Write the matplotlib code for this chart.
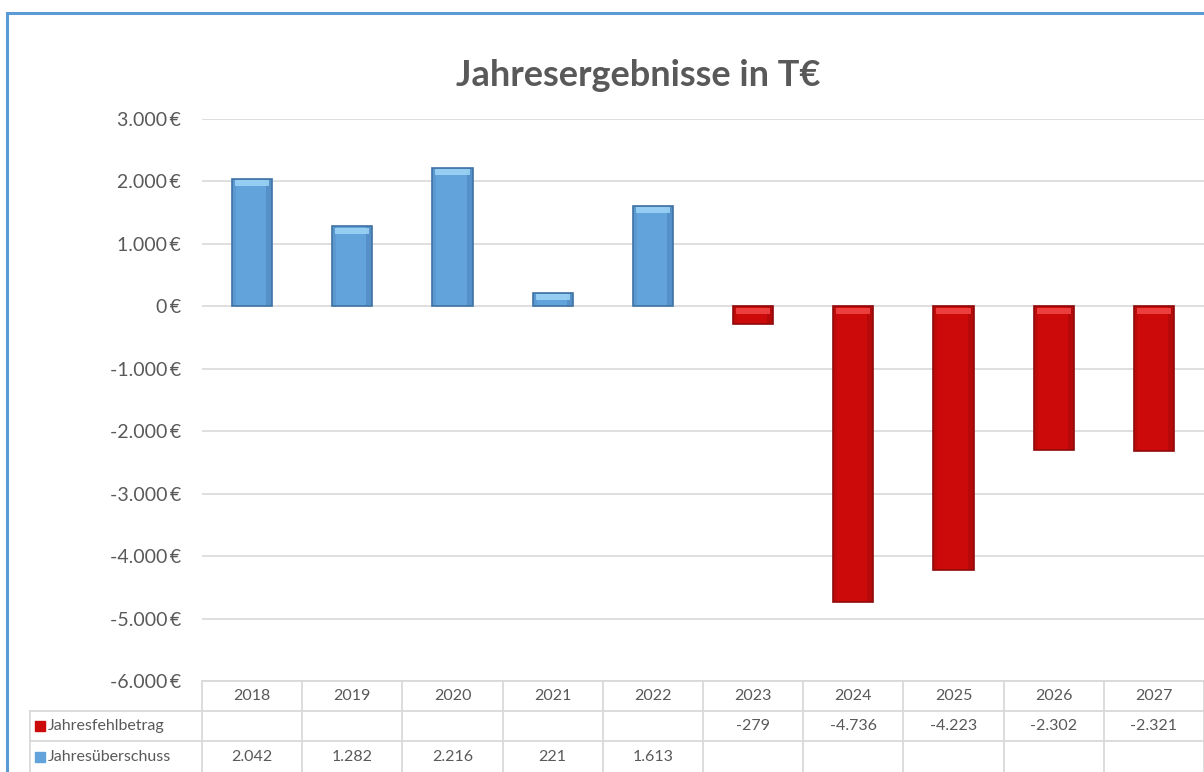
import matplotlib.pyplot as plt
import matplotlib.patches as mpatches
import matplotlib.ticker as mticker
import numpy as np

years = ["2018", "2019", "2020", "2021", "2022", "2023", "2024", "2025", "2026", "2027"]
ueberschuss = [2042, 1282, 2216, 221, 1613, None, None, None, None, None]
fehlbetrag = [None, None, None, None, None, -279, -4736, -4223, -2302, -2321]
series_names = ["Jahresfehlbetrag", "Jahresüberschuss"]

W, H = 1204, 772
blue = "#62a3dc"
blue_dark = "#3f72a3"
blue_light = "#9fd6f7"
red = "#cc0a0a"
red_dark = "#8e0a0a"
red_light = "#f44848"
grey_txt = "#595959"
grid_c = "#d9d9d9"

plt.rcParams["font.family"] = ["Lato", "DejaVu Sans"]

fig = plt.figure(figsize=(W / 100, H / 100), dpi=100)
ax = fig.add_axes([202 / W, 1 - 681 / H, 1 - 202 / W, (681 - 119) / H])

x = np.arange(len(years))
bw = 0.40
cap = 100  # highlight band, data units


def draw_bars(vals, c, c_dark, c_light):
    for xi, v in zip(x, vals):
        if v is None:
            continue
        ax.bar(xi, v, width=bw, color=c, edgecolor=c_dark, linewidth=1.2, zorder=3)
        # darker side strips
        ax.bar(xi + bw / 2 - 0.03, v, width=0.06, color=c_dark, alpha=0.35, linewidth=0, zorder=4)
        ax.bar(xi - bw / 2 + 0.02, v, width=0.04, color=c_dark, alpha=0.2, linewidth=0, zorder=4)
        # lighter cap at the upper end
        h = min(cap, abs(v) * 0.45)
        top = max(v, 0)
        ax.bar(xi, h, bottom=top - h * 1.2, width=bw - 0.06, color=c_light,
               alpha=0.85, linewidth=0, zorder=5)


draw_bars(ueberschuss, blue, blue_dark, blue_light)
draw_bars(fehlbetrag, red, red_dark, red_light)

ax.set_xlim(-0.5, len(years) - 0.5)
ax.set_ylim(-6000, 3000)
ax.yaxis.set_major_locator(mticker.MultipleLocator(1000))
ax.yaxis.set_major_formatter(mticker.FuncFormatter(
    lambda v, p: f"{v:,.0f}".replace(",", ".") + "\u2009€"))
ax.grid(axis="y", color=grid_c, linewidth=1.2, zorder=0)
ax.set_xticks([])
for s in ax.spines.values():
    s.set_visible(False)
ax.tick_params(axis="y", length=0, pad=15, labelsize=14, labelcolor=grey_txt)

fig.text(638 / W, 1 - 76 / H, "Jahresergebnisse in T€", ha="center", va="center",
         fontsize=26, fontweight="bold", color=grey_txt)

# outer chart border
fig.add_artist(mpatches.Rectangle((7 / W, -0.1), 1.2, 1 - 13 / H + 0.1,
                                  transform=fig.transFigure, fill=False,
                                  edgecolor="#5b9bd5", linewidth=2.2))

# data table below the plot
def fy(py):
    return 1 - py / H


def fx(xd):
    return fig.transFigure.inverted().transform(ax.transData.transform((xd, 0)))[0]


rows = [681, 711, 741, 771]
lkw = dict(color=grid_c, linewidth=1.3, transform=fig.transFigure)
fig.add_artist(plt.Line2D([fx(-0.5), 1], [fy(rows[0])] * 2, **lkw))
for r in rows[1:3]:
    fig.add_artist(plt.Line2D([30 / W, 1], [fy(r)] * 2, **lkw))
fig.add_artist(plt.Line2D([30 / W] * 2, [fy(rows[1]), 0], **lkw))
for i in range(len(years) + 1):
    xx = fx(i - 0.5)
    fig.add_artist(plt.Line2D([xx, xx], [fy(rows[0]), 0], **lkw))

def fmt(v):
    return "" if v is None else f"{v:,.0f}".replace(",", ".")

for i, yr in enumerate(years):
    fig.text(fx(i), fy(696), yr, ha="center", va="center", fontsize=11.5, color=grey_txt)
    fig.text(fx(i), fy(726), fmt(fehlbetrag[i]), ha="center", va="center", fontsize=11.5, color=grey_txt)
    fig.text(fx(i), fy(757), fmt(ueberschuss[i]), ha="center", va="center", fontsize=11.5, color=grey_txt)

for ry, name, c in [(726, series_names[0], red), (757, series_names[1], blue)]:
    fig.add_artist(mpatches.Rectangle((35 / W, fy(ry + 5)), 10 / W, 10 / H,
                                      transform=fig.transFigure, color=c))
    fig.text(48 / W, fy(ry), name, ha="left", va="center", fontsize=11.5, color=grey_txt)

fig.savefig("out.png", dpi=100)
